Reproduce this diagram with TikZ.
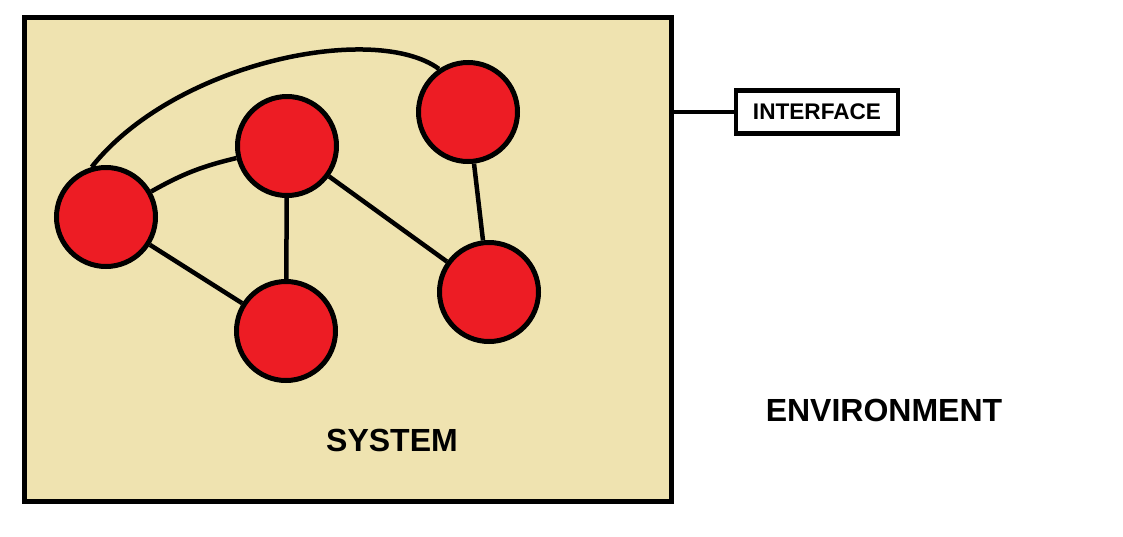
\documentclass[tikz,border=0pt]{standalone}
\usepackage{fontspec}
\setmainfont{Liberation Sans}
\definecolor{sysbeige}{HTML}{EFE3B0}
\definecolor{elemred}{HTML}{ED1C24}
\tikzset{
  element/.style={circle, draw=black, fill=elemred, line width=5pt, minimum size=99pt, inner sep=0pt},
  link/.style={line width=4.5pt},
  label text/.style={font=\bfseries\fontsize{32}{32}\selectfont}
}
\begin{document}
\begin{tikzpicture}[x=1pt, y=-1pt]
            \useasboundingbox (0,0) rectangle (1123,536);
            
            % system
            \node [draw, line width=5pt, fill=sysbeige, minimum width=647pt, minimum height=484pt, inner sep=0pt] (system) at (347.5,259) {};
            
            % elements
            \foreach \m/\x/\y in {1/106/217, 2/287/146, 3/468/112, 4/286/331, 5/489/292}
            \node [element] (elem-\m) at (\x,\y) {};
            
            % relations
            \draw [link] (elem-1) to [bend left=8] (elem-2);
            \foreach \i/\j in {1/4, 2/4, 2/5, 3/5}
            \draw [link] (elem-\i) -- (elem-\j);
            \draw [link] (elem-1.106) .. controls (175,62) and (375,22) .. (elem-3.124);
            
            % interface
            \node [draw, line width=4.5pt, fill=white, minimum width=162pt, minimum height=43pt, inner sep=0pt, font=\bfseries\fontsize{22.6}{22.6}\selectfont] (interface) at (817,112) {INTERFACE};
            \draw [link] (system.east |- interface.west) -- (interface.west);
            
            %   labels
            \node [label text] (system-label) at (392,440) {SYSTEM};
            \node [label text] (environment) at (884,410) {ENVIRONMENT};
\end{tikzpicture}
\end{document}
